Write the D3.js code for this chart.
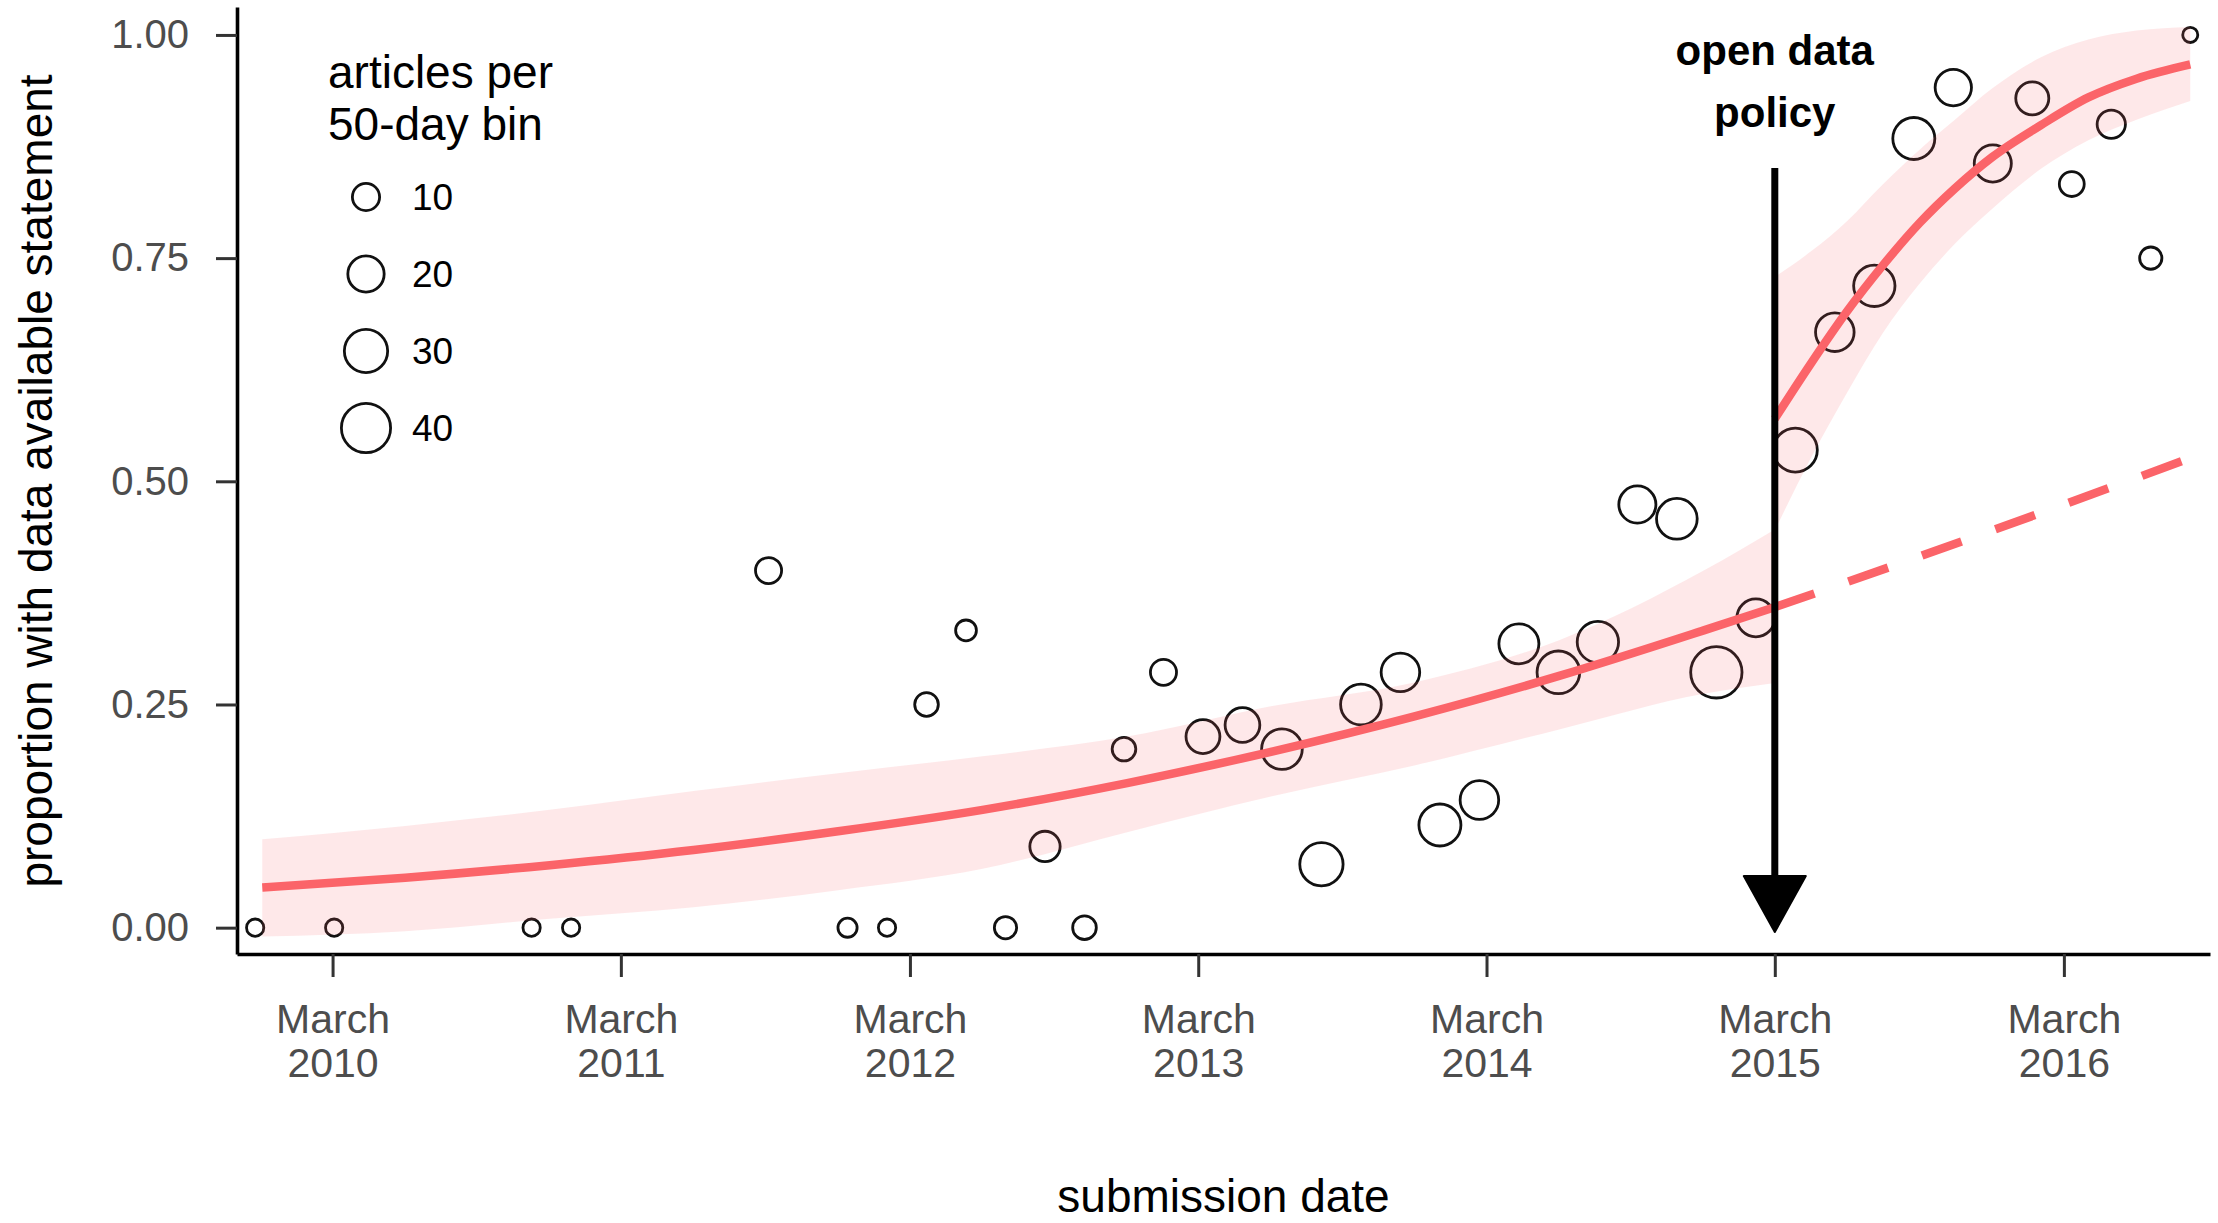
<!DOCTYPE html>
<html>
<head>
<meta charset="utf-8">
<script src="https://cdn.jsdelivr.net/npm/d3@7"></script>
<style>
  html, body { margin: 0; padding: 0; background: #fff; }
  svg { display: block; font-family: "Liberation Sans", Arial, Helvetica, sans-serif; }
</style>
</head>
<body>
<svg id="chart" width="2218" height="1223"></svg>
<script>
// 50-day bins: bin date, share of articles with a data availability statement, articles in the bin
const binDates = [
  "2009-11-23", "2010-03-03", "2010-11-08", "2010-12-28", "2011-09-04",
  "2011-12-13", "2012-02-01", "2012-03-22", "2012-05-11", "2012-06-30",
  "2012-08-19", "2012-10-08", "2012-11-27", "2013-01-16", "2013-03-07",
  "2013-04-26", "2013-06-15", "2013-08-04", "2013-09-23", "2013-11-12",
  "2014-01-01", "2014-02-20", "2014-04-11", "2014-05-31", "2014-07-20",
  "2014-09-08", "2014-10-28", "2014-12-17", "2015-02-05", "2015-03-27",
  "2015-05-16", "2015-07-05", "2015-08-24", "2015-10-13", "2015-12-02",
  "2016-01-21", "2016-03-11", "2016-04-30", "2016-06-19", "2016-08-08"
];
const binShare = [
  0, 0, 0, 0, 0.40,
  0, 0, 0.25, 0.333, 0,
  0.091, 0, 0.20, 0.286, 0.214,
  0.227, 0.20, 0.071, 0.25, 0.286,
  0.115, 0.143, 0.318, 0.286, 0.32,
  0.474, 0.458, 0.286, 0.347, 0.535,
  0.667, 0.719, 0.884, 0.941, 0.856,
  0.929, 0.833, 0.90, 0.75, 1.0
];
const binArticles = [
  3, 3, 3, 3, 9,
  4, 3, 7, 5, 6,
  13, 7, 7, 9, 17,
  18, 26, 30, 26, 23,
  28, 23, 25, 29, 27,
  21, 26, 44, 22, 31,
  23, 27, 28, 20, 21,
  16, 8, 11, 6, 2
];

// logistic trend fitted before the policy, with its confidence band
const preDates = [
  "2009-12-02", "2010-06-01", "2010-12-01", "2011-06-01", "2011-12-01", "2012-06-01",
  "2012-12-01", "2013-06-01", "2013-12-01", "2014-06-01", "2014-12-01", "2015-03-01"
];
const preFit   = [0.045, 0.056, 0.070, 0.087, 0.108, 0.132, 0.162, 0.197, 0.237, 0.282, 0.333, 0.359];
const preLower = [-0.010, -0.004, 0.010, 0.023, 0.042, 0.066, 0.107, 0.147, 0.182, 0.222, 0.262, 0.274];
const preUpper = [0.099, 0.114, 0.132, 0.153, 0.173, 0.192, 0.214, 0.248, 0.275, 0.322, 0.400, 0.446];

// the pre-policy trend carried on past the policy date
const projDates = ["2015-03-01", "2015-09-01", "2016-03-01", "2016-08-08"];
const projFit   = [0.359, 0.416, 0.474, 0.526];

// logistic trend fitted after the policy, with its confidence band
const postDates = [
  "2015-03-01", "2015-04-15", "2015-06-01", "2015-07-15", "2015-09-01", "2015-10-15",
  "2015-12-01", "2016-02-01", "2016-04-01", "2016-06-01", "2016-08-08"
];
const postFit   = [0.570, 0.631, 0.691, 0.741, 0.790, 0.828, 0.863, 0.899, 0.930, 0.951, 0.967];
const postLower = [0.445, 0.525, 0.600, 0.665, 0.722, 0.766, 0.805, 0.850, 0.882, 0.905, 0.926];
const postUpper = [0.729, 0.757, 0.792, 0.832, 0.872, 0.905, 0.940, 0.975, 0.995, 1.005, 1.009];

const policyDate = "2015-03-01";
const xTickDates = ["2010-03-01", "2011-03-01", "2012-03-01", "2013-03-01", "2014-03-01", "2015-03-01", "2016-03-01"];
const yTicks = [0, 0.25, 0.5, 0.75, 1];
const legendSizes = [10, 20, 30, 40];

const parse = d3.utcParse("%Y-%m-%d");
const RED = "#fb6469";

const svg = d3.select("#chart");

const x = d3.scaleUtc()
  .domain([parse("2009-10-31"), parse("2016-09-02")])
  .range([237, 2210]);
const y = d3.scaleLinear()
  .domain([-0.0295, 1.0313])
  .range([954, 7]);
const r = d3.scalePow().exponent(0.5)
  .domain([1, 40])
  .range([7.5, 26]);

const bins = binDates.map((d, i) => ({ date: parse(d), share: binShare[i], n: binArticles[i] }));
const pre = preDates.map((d, i) => ({ date: parse(d), fit: preFit[i], lo: preLower[i], hi: preUpper[i] }));
const proj = projDates.map((d, i) => ({ date: parse(d), fit: projFit[i] }));
const post = postDates.map((d, i) => ({ date: parse(d), fit: postFit[i], lo: postLower[i], hi: postUpper[i] }));

// axes
const xAxis = svg.append("g")
  .attr("transform", "translate(0,954)")
  .call(d3.axisBottom(x)
    .tickValues(xTickDates.map(parse))
    .tickSize(23)
    .tickSizeOuter(0)
    .tickFormat(""));
xAxis.select(".domain").attr("stroke", "#000").attr("stroke-width", 3.6);
xAxis.selectAll(".tick line").attr("stroke", "#333").attr("stroke-width", 3);
xAxis.selectAll(".tick").append("text")
  .attr("fill", "#4d4d4d")
  .attr("font-size", 41)
  .attr("text-anchor", "middle")
  .each(function (d) {
    const t = d3.select(this);
    t.append("tspan").attr("x", 0).attr("y", 79).text("March");
    t.append("tspan").attr("x", 0).attr("y", 123).text(d3.utcFormat("%Y")(d));
  });

const yAxis = svg.append("g")
  .attr("transform", "translate(237,0)")
  .call(d3.axisLeft(y)
    .tickValues(yTicks)
    .tickSize(21)
    .tickSizeOuter(0)
    .tickPadding(27)
    .tickFormat(d3.format(".2f")));
yAxis.select(".domain").attr("stroke", "#000").attr("stroke-width", 3.6);
yAxis.selectAll(".tick line").attr("stroke", "#333").attr("stroke-width", 3);
yAxis.selectAll(".tick text")
  .attr("fill", "#4d4d4d")
  .attr("font-size", 40)
  .attr("font-family", "\"Liberation Sans\", Arial, sans-serif");

// axis titles
svg.append("text")
  .attr("x", (237 + 2210) / 2)
  .attr("y", 1212)
  .attr("text-anchor", "middle")
  .attr("font-size", 46)
  .attr("fill", "#000")
  .text("submission date");
svg.append("text")
  .attr("transform", "translate(52,481) rotate(-90)")
  .attr("text-anchor", "middle")
  .attr("font-size", 46)
  .attr("fill", "#000")
  .text("proportion with data available statement");

// binned observations
svg.append("g")
  .selectAll("circle")
  .data(bins)
  .join("circle")
  .attr("cx", d => x(d.date))
  .attr("cy", d => y(d.share))
  .attr("r", d => r(d.n) - 1.4)
  .attr("fill", "none")
  .attr("stroke", "#111")
  .attr("stroke-width", 2.8);

// confidence bands
const band = d3.area()
  .x(d => x(d.date))
  .y0(d => y(d.lo))
  .y1(d => y(d.hi))
  .curve(d3.curveMonotoneX);
svg.append("path").datum(pre).attr("d", band).attr("fill", RED).attr("fill-opacity", 0.15);
svg.append("path").datum(post).attr("d", band).attr("fill", RED).attr("fill-opacity", 0.15);

// fitted trends
const trend = d3.line()
  .x(d => x(d.date))
  .y(d => y(d.fit))
  .curve(d3.curveMonotoneX);
svg.append("path").datum(pre).attr("d", trend)
  .attr("fill", "none").attr("stroke", RED).attr("stroke-width", 8.5);
svg.append("path").datum(proj).attr("d", trend)
  .attr("fill", "none").attr("stroke", RED).attr("stroke-width", 8.5)
  .attr("stroke-dasharray", "42 36");
svg.append("path").datum(post).attr("d", trend)
  .attr("fill", "none").attr("stroke", RED).attr("stroke-width", 8.5);

// policy marker
const px = x(parse(policyDate));
svg.append("line")
  .attr("x1", px).attr("x2", px)
  .attr("y1", 168).attr("y2", 880)
  .attr("stroke", "#000").attr("stroke-width", 7);
svg.append("path")
  .attr("d", `M${px - 31},876 L${px + 31},876 L${px},932 Z`)
  .attr("fill", "#000")
  .attr("stroke", "#000")
  .attr("stroke-width", 2)
  .attr("stroke-linejoin", "round");
const note = svg.append("text")
  .attr("text-anchor", "middle")
  .attr("font-size", 42)
  .attr("font-weight", "bold")
  .attr("fill", "#000");
note.append("tspan").attr("x", px).attr("y", 65).text("open data");
note.append("tspan").attr("x", px).attr("y", 127).text("policy");

// size legend
const legend = svg.append("g");
legend.append("text")
  .attr("font-size", 46)
  .attr("fill", "#000")
  .selectAll("tspan")
  .data(["articles per", "50-day bin"])
  .join("tspan")
  .attr("x", 328)
  .attr("y", (d, i) => 88 + i * 52)
  .text(d => d);
const keys = legend.selectAll("g.key")
  .data(legendSizes)
  .join("g")
  .attr("class", "key")
  .attr("transform", (d, i) => `translate(366,${197 + i * 77})`);
keys.append("circle")
  .attr("r", d => r(d) - 1.4)
  .attr("fill", "none")
  .attr("stroke", "#111")
  .attr("stroke-width", 2.8);
keys.append("text")
  .attr("x", 46)
  .attr("dy", "0.36em")
  .attr("font-size", 37)
  .attr("fill", "#000")
  .text(d => d);
</script>
</body>
</html>
